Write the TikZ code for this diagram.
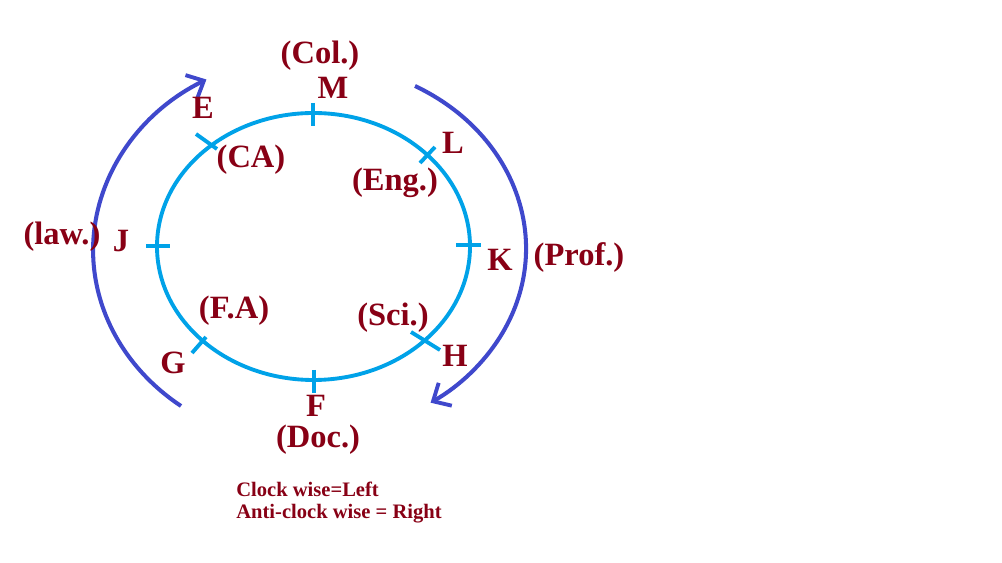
\documentclass[tikz,border=0pt]{standalone}
\usepackage{fontspec}
\setmainfont{Liberation Serif}
\usetikzlibrary{arrows.meta}
\definecolor{ringblue}{HTML}{00A2E8}
\definecolor{arcblue}{HTML}{3F48CC}
\definecolor{lab}{HTML}{880015}
\begin{document}
\begin{tikzpicture}[x=0.02cm,y=-0.02cm,
  lbl/.style={text=lab,font=\fontsize{18.5}{20}\selectfont\bfseries,inner sep=0pt},
  note/.style={text=lab,font=\fontsize{11.7}{13}\selectfont\bfseries,inner sep=0pt,anchor=west},
  tick/.style={draw=ringblue,line width=2.2pt},
  ring/.style={draw=ringblue,line width=2.2pt},
  bigarc/.style={draw=arcblue,line width=2.3pt,-{Straight Barb[length=8pt,width=15pt,line width=2.2pt]}}]
\useasboundingbox (0,0) rectangle (1002,563);
\fill[white] (0,0) rectangle (1002,563);
% ring
\coordinate (O) at (313.5,246.5);
\draw[ring] (O) ellipse [x radius=156.5, y radius=133.5];
% ticks
\coordinate (mA) at (313,103); \coordinate (mB) at (313,126);
\coordinate (jA) at (146,246); \coordinate (jB) at (170,246);
\coordinate (kA) at (456,245); \coordinate (kB) at (481,245);
\coordinate (fA) at (314,370); \coordinate (fB) at (314,393);
\coordinate (eA) at (196,134); \coordinate (eB) at (217,149);
\coordinate (lA) at (420,163); \coordinate (lB) at (435,147);
\coordinate (hA) at (411,332); \coordinate (hB) at (440,350);
\coordinate (gA) at (192,353); \coordinate (gB) at (206,337);
\draw[tick] (mA) -- (mB);
\draw[tick] (jA) -- (jB);
\draw[tick] (kA) -- (kB);
\draw[tick] (fA) -- (fB);
\draw[tick] (eA) -- (eB);
\draw[tick] (lA) -- (lB);
\draw[tick] (hA) -- (hB);
\draw[tick] (gA) -- (gB);
% big arcs
\coordinate (leftStart) at (181,406);
\draw[bigarc] (leftStart) arc [start angle=126.9, end angle=241, x radius=220, y radius=195];
\coordinate (rightStart) at (415,86);
\draw[bigarc] (rightStart) arc [start angle=-61.4, end angle=56.5, x radius=213, y radius=185];
% labels
\node[lbl] (col) at (320,56) {(Col.)};
\node[lbl] (M) at (333,88) {M};
\node[lbl] (E) at (203,108) {E};
\node[lbl] (CA) at (251,160) {(CA)};
\node[lbl] (L) at (453,143) {L};
\node[lbl] (eng) at (395,183) {(Eng.)};
\node[lbl] (law) at (62,237) {(law.)};
\node[lbl] (J) at (121,241) {J};
\node[lbl] (K) at (500,260) {K};
\node[lbl] (prof) at (579,258) {(Prof.)};
\node[lbl] (FA) at (234,311) {(F.A)};
\node[lbl] (sci) at (393,318) {(Sci.)};
\node[lbl] (G) at (173,363) {G};
\node[lbl] (H) at (455,356) {H};
\node[lbl] (F) at (316,406) {F};
\node[lbl] (doc) at (318,440) {(Doc.)};
\node[note] (n1) at (236,489) {Clock wise=Left};
\node[note] (n2) at (236,514) {Anti-clock wise = Right};
\end{tikzpicture}
\end{document}
